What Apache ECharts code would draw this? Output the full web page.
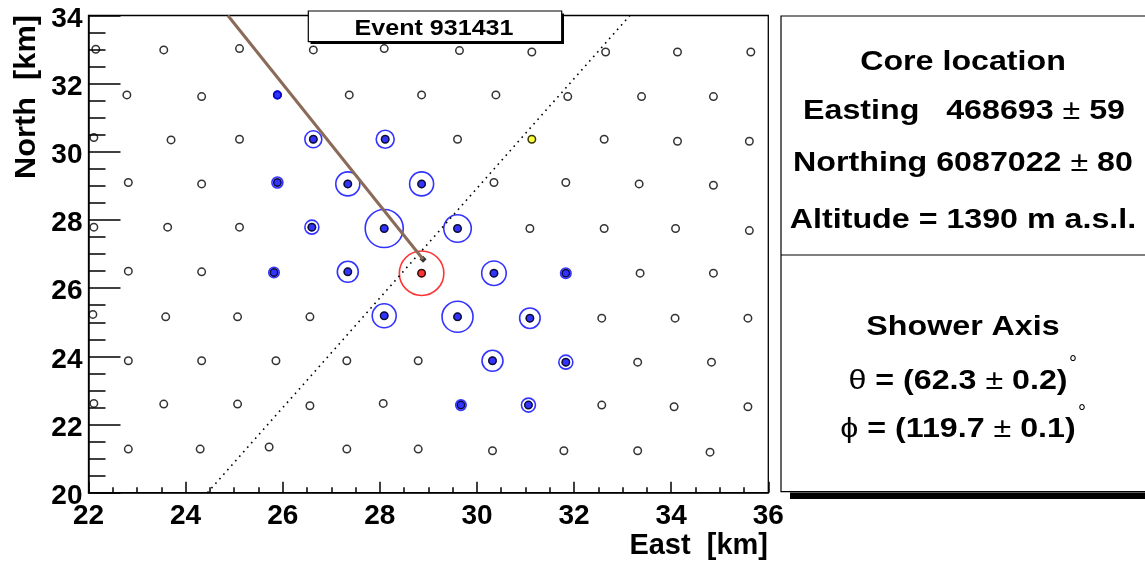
<!DOCTYPE html>
<html><head><meta charset="utf-8">
<script src="https://cdn.jsdelivr.net/npm/echarts@6/dist/echarts.min.js"></script>
<style>html,body{margin:0;padding:0;background:#fff}#c{width:1145px;height:562px}</style>
</head><body><div id="c"></div>
<script>
// ---- Data (km) ----
const stationEast = [
  22.15, 23.55, 25.11, 26.63, 28.09, 29.64, 31.13, 32.65, 34.13, 35.64,
  22.79, 24.33, 25.89, 27.37, 28.86, 30.39, 31.87, 33.39, 34.87,
  22.11, 23.70, 25.11, 26.63, 28.11, 29.60, 31.13, 32.62, 34.13, 35.61,
  22.82, 24.33, 25.89, 27.34, 28.86, 30.35, 31.83, 33.34, 34.87,
  22.11, 23.63, 25.11, 26.60, 28.09, 29.60, 31.09, 32.62, 34.09, 35.61,
  22.82, 24.33, 25.82, 27.34, 28.86, 30.35, 31.83, 33.36, 34.87,
  22.09, 23.59, 25.07, 26.56, 28.09, 29.60, 31.09, 32.57, 34.08, 35.58,
  22.82, 24.33, 25.86, 27.32, 28.79, 30.32, 31.83, 33.31, 34.83,
  22.11, 23.55, 25.07, 26.56, 28.07, 29.67, 31.06, 32.57, 34.06, 35.58,
  22.82, 24.30, 25.72, 27.32, 28.79, 30.32, 31.79, 33.31, 34.80
];
const stationNorth = [
  33.01, 32.99, 33.03, 32.99, 33.03, 32.97, 32.93, 32.93, 32.93, 32.93,
  31.67, 31.62, 31.67, 31.67, 31.67, 31.67, 31.62, 31.62, 31.62,
  30.42, 30.35, 30.37, 30.37, 30.37, 30.37, 30.37, 30.37, 30.31, 30.31,
  29.10, 29.06, 29.10, 29.06, 29.06, 29.10, 29.10, 29.06, 29.02,
  27.79, 27.79, 27.79, 27.79, 27.75, 27.75, 27.75, 27.75, 27.75, 27.69,
  26.50, 26.48, 26.46, 26.48, 26.44, 26.44, 26.44, 26.44, 26.44,
  25.23, 25.16, 25.16, 25.16, 25.19, 25.16, 25.12, 25.12, 25.12, 25.12,
  23.87, 23.87, 23.87, 23.87, 23.87, 23.87, 23.83, 23.83, 23.83,
  22.62, 22.60, 22.60, 22.55, 22.62, 22.57, 22.57, 22.57, 22.52, 22.52,
  21.28, 21.28, 21.34, 21.28, 21.28, 21.23, 21.23, 21.23, 21.19
];
// triggered stations (blue) and their signal (arbitrary units, drawn as ring size)
const triggeredEast  = [25.89, 26.63, 28.11, 25.89, 27.34, 28.86, 26.60, 28.09, 29.60, 25.82, 27.34, 30.35, 31.83, 28.09, 29.60, 31.09, 30.32, 31.83, 29.67, 31.06];
const triggeredNorth = [31.67, 30.37, 30.37, 29.10, 29.06, 29.06, 27.79, 27.75, 27.75, 26.46, 26.48, 26.44, 26.44, 25.19, 25.16, 25.12, 23.87, 23.83, 22.57, 22.57];
const triggeredSignal = [3.75, 8.5, 9.0, 5.5, 12.0, 12.0, 7.0, 19.0, 13.75, 5.25, 10.5, 12.25, 5.25, 12.0, 15.5, 10.25, 10.5, 7.0, 5.25, 7.0];
// hottest station (red) and a silent station (yellow)
const hotEast = [28.86], hotNorth = [26.44], hotSignal = [22.25];
const silentEast = [31.13], silentNorth = [30.37];
// reconstructed core and shower-axis projections
const coreEast = [28.89], coreNorth = [26.85];
const axisEast = [24.87, 28.89], axisNorth = [34.0, 26.85];
const perpEast = [24.45, 33.15], perpNorth = [20.0, 34.0];
const xTicks = [22, 24, 26, 28, 30, 32, 34, 36];
const yTicks = [20, 22, 24, 26, 28, 30, 32, 34];

// ---- Rendering ----
const SIGNAL_TO_PX = 2;
const FONT = '"Liberation Sans", Arial, Helvetica, sans-serif';
const zip = (a, b, c) => a.map((v, i) => c ? [v, b[i], c[i]] : [v, b[i]]);
const noEmph = { disabled: true };

const chart = echarts.init(document.getElementById('c'), null, { renderer: 'canvas' });

const labelFont = { fontSize: 28, fontWeight: 'bold', fontFamily: FONT, color: '#000', lineHeight: 28 };
const axisCommon = {
  type: 'value',
  axisLine: { show: true, onZero: false, lineStyle: { color: '#000', width: 1.5 } },
  splitLine: { show: false },
  axisLabel: labelFont
};

const boldText = { fontSize: 28, fontWeight: 'bold', fontFamily: FONT, fill: '#000' };
const thinText = { fontSize: 28, fontWeight: 'normal', fontFamily: FONT, fill: '#000' };
const SX = 1.15;
function panelLine(text, y, x) {
  return {
    type: 'text', x: x || 963, y: y, scaleX: SX, z: 10,
    style: { text: text, align: 'center', verticalAlign: 'middle',
      fontSize: 28, fontWeight: 'bold', fontFamily: FONT, fill: '#000',
      rich: { b: boldText, n: thinText } }
  };
}

chart.setOption({
  animation: false,
  backgroundColor: '#fff',
  grid: { left: 88.5, right: 376.7, top: 15.5, bottom: 69.3, show: true, borderColor: '#000', borderWidth: 1.3, backgroundColor: 'transparent', containLabel: false, outerBoundsMode: 'none' },
  xAxis: Object.assign({}, axisCommon, {
    min: xTicks[0], max: xTicks[xTicks.length - 1], interval: xTicks[1] - xTicks[0],
    axisTick: { show: true, inside: true, length: 11, lineStyle: { color: '#000', width: 1.5 } },
    minorTick: { show: true, splitNumber: 4, length: 5.5, lineStyle: { color: '#000', width: 1.5 } },
    axisLabel: Object.assign({}, labelFont, { margin: 10 })
  }),
  yAxis: Object.assign({}, axisCommon, {
    min: yTicks[0], max: yTicks[yTicks.length - 1], interval: yTicks[1] - yTicks[0],
    axisTick: { show: true, inside: true, length: 32, lineStyle: { color: '#000', width: 1.5 } },
    minorTick: { show: true, splitNumber: 4, length: 17, lineStyle: { color: '#000', width: 1.5 } },
    axisLabel: Object.assign({}, labelFont, {
      margin: 6,
      formatter: '{a|{value}}',
      rich: { a: Object.assign({}, labelFont, { padding: [7, 0, 0, 0] }) }
    })
  }),
  series: [
    { type: 'scatter', name: 'triggered', clip: false, silent: true, emphasis: noEmph,
      data: zip(triggeredEast, triggeredNorth), symbol: 'circle', symbolSize: 8.5,
      itemStyle: { color: '#0000ff' } },
    { type: 'scatter', name: 'silent', clip: false, silent: true, emphasis: noEmph,
      data: zip(silentEast, silentNorth), symbol: 'circle', symbolSize: 8.5,
      itemStyle: { color: '#ffff00' } },
    { type: 'scatter', name: 'hot', clip: false, silent: true, emphasis: noEmph,
      data: zip(hotEast, hotNorth), symbol: 'circle', symbolSize: 8.5,
      itemStyle: { color: '#ff0000' } },
    { type: 'scatter', name: 'stations', clip: false, silent: true, emphasis: noEmph,
      data: zip(stationEast, stationNorth), symbol: 'circle', symbolSize: 7.5,
      itemStyle: { color: 'rgba(0,0,0,0)', borderColor: '#000', borderWidth: 1.5 } },
    { type: 'scatter', name: 'signal', clip: false, silent: true, emphasis: noEmph,
      data: zip(triggeredEast, triggeredNorth, triggeredSignal), symbol: 'circle',
      symbolSize: v => v[2] * SIGNAL_TO_PX,
      itemStyle: { color: 'rgba(0,0,0,0)', borderColor: '#0000ff', borderWidth: 1.6 } },
    { type: 'scatter', name: 'hotSignal', clip: false, silent: true, emphasis: noEmph,
      data: zip(hotEast, hotNorth, hotSignal), symbol: 'circle',
      symbolSize: v => v[2] * SIGNAL_TO_PX,
      itemStyle: { color: 'rgba(0,0,0,0)', borderColor: '#ff0000', borderWidth: 1.6 } },
    { type: 'line', name: 'perp', silent: true, showSymbol: false, symbol: 'none',
      data: zip(perpEast, perpNorth),
      lineStyle: { color: '#000', width: 1.6, type: [1.6, 4.4] } },
    { type: 'line', name: 'axis', silent: true, showSymbol: false, symbol: 'none',
      data: zip(axisEast, axisNorth),
      lineStyle: { color: '#8a6a58', width: 3 } },
    { type: 'scatter', name: 'core', clip: false, silent: true, emphasis: noEmph,
      data: zip(coreEast, coreNorth), symbol: 'diamond', symbolSize: 7,
      itemStyle: { color: '#000' } }
  ],
  graphic: [
    // axis titles
    { type: 'text', x: 768, y: 546, z: 10,
      style: { text: 'East  [km]', align: 'right', verticalAlign: 'middle', fontSize: 29, fontWeight: 'bold', fontFamily: FONT, fill: '#000' } },
    { type: 'text', x: 27, y: 15, rotation: Math.PI / 2, scaleX: 1.06, z: 10,
      style: { text: 'North  [km]', align: 'right', verticalAlign: 'middle', fontSize: 29, fontWeight: 'bold', fontFamily: FONT, fill: '#000' } },
    // title box
    { type: 'rect', z: 9, shape: { x: 310.5, y: 13.5, width: 253.5, height: 30.5 }, style: { fill: '#000' } },
    { type: 'rect', z: 9, shape: { x: 308.3, y: 11, width: 253.4, height: 30.7 }, style: { fill: '#fff', stroke: '#000', lineWidth: 1.2 } },
    { type: 'text', x: 434, y: 28.5, scaleX: 1.14, z: 10,
      style: { text: 'Event 931431', align: 'center', verticalAlign: 'middle', fontSize: 22, fontWeight: 'bold', fontFamily: FONT, fill: '#000' } },
    // right panel
    { type: 'rect', z: 9, shape: { x: 790, y: 492.5, width: 360, height: 6.5 }, style: { fill: '#000' } },
    { type: 'rect', z: 9, shape: { x: 781, y: 16, width: 380, height: 475.7 }, style: { fill: '#fff', stroke: '#000', lineWidth: 1.2 } },
    { type: 'line', z: 9, shape: { x1: 781, y1: 255, x2: 1150, y2: 255 }, style: { stroke: '#000', lineWidth: 1.2 } },
    panelLine('{b|Core location}', 62),
    panelLine('{b|Easting   468693 }{n|±}{b| 59}', 111, 964),
    panelLine('{b|Northing 6087022 }{n|±}{b| 80}', 163.5),
    panelLine('{b|Altitude = 1390 m a.s.l.}', 220.5),
    panelLine('{b|Shower Axis}', 327.5),
    panelLine('{n|θ}{b| = (62.3 }{n|±}{b| 0.2)}', 381.5, 958),
    panelLine('{n|ϕ}{b| = (119.7 }{n|±}{b| 0.1)}', 429.5, 958),
    { type: 'text', x: 1073, y: 364, z: 10,
      style: { text: '°', align: 'center', verticalAlign: 'middle', fontSize: 20, fontFamily: FONT, fill: '#000' } },
    { type: 'text', x: 1082, y: 413, z: 10,
      style: { text: '°', align: 'center', verticalAlign: 'middle', fontSize: 20, fontFamily: FONT, fill: '#000' } }
  ]
});
</script>
</body></html>
